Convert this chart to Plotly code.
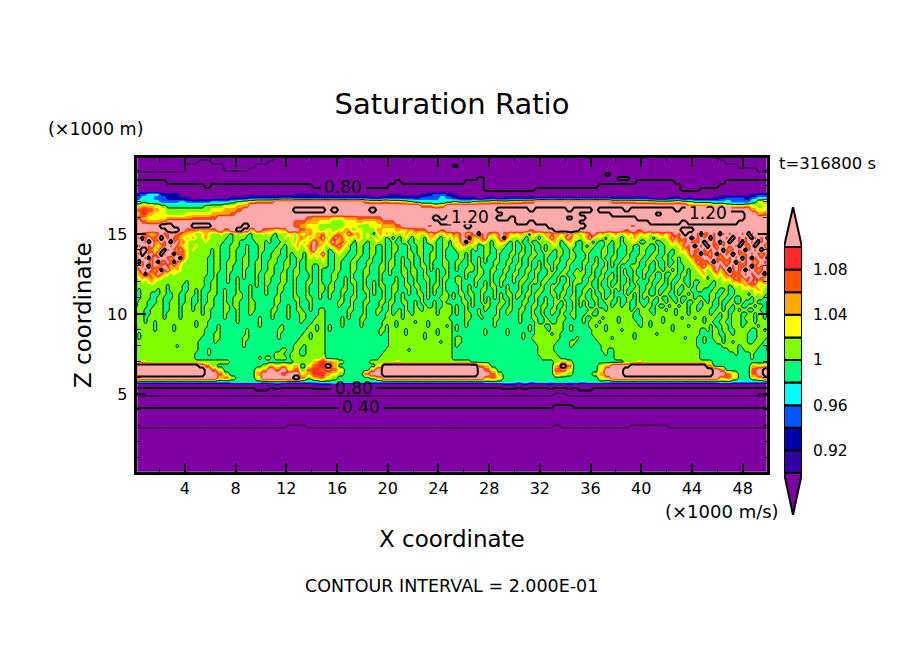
import plotly.graph_objects as go

# saturation ratio, one letter per grid cell, see sat_codes for what each letter stands for
sat_codes = {
    ".": 0.05, "a": 0.17, "b": 0.23, "c": 0.30, "d": 0.37, "e": 0.43, "f": 0.50, "g": 0.57, "h": 0.63,
    "i": 0.70, "j": 0.77, "k": 0.83, "l": 0.885, "m": 0.91, "n": 0.93, "o": 0.95, "p": 0.97, "G": 0.99,
    "L": 1.01, "Y": 1.03, "O": 1.05, "D": 1.07, "R": 1.09, "P": 1.14, "X": 1.30,
}
# 19.75 km down to 15.25 km, every 0.25 km, 100 columns
upper_rows = [
    "ffffffffff ffffffffff ffiiiiiiii iiiiiiiiii iiiiiiiiii iiiiiiiiii iiiiiiiiii iiiiiiiiii iiiiiiiiii iiffffffff",
    "ffffffffff iiffffffff fhiiiiiiii iiiiiiiiii iiiiiiiiii iiiiiiiiii iiiiiiiiii iiiiiiiiii iiiiiiiiii iiifffffff",
    "ffffffffii iiiifffffi iiiiiiiiii iiiiiiiiii iiiiiiiiii kiiiiiiiii iiiiiiiiii iiiiiiiiii iiiiiiiiii iiiiifffff",
    "ffffffffii iiiiggggii iiiiiiiiii iiiiiiiiii iiiiiiiiii iiiiiiiiii iiiiiiiiii iiiiiiiiii iiiiiiiiii iiiiiiiiff",
    "iiiiiiiiii iiiiiiiiii iiiiiiiiii iiiiiiiiii iiiiiiiiii iiiiiiiiii iiiiiiiiii iiiikiiiii iiiiiiiiii iiiiiiiiii",
    "jjjjjjjjjj jjjjjjjjjj jjjjjjjjjj jjjjjjjjjj jjjjjjjjjj jjjjkjjjjj jjjjjjjjjj jjjjjjkkjj jjjjjjjjjj jjjjjjjjjj",
    "kkkkkjjjjj jjjjjjjjjj jjjjjjjjjj jjjjjjjjjj jkjjjjjjjj jjkkkjjjjj jjjjjjjjjj jjjjjjjjjk kkkkkjjjjj jjjkkkkkkk",
    "kkkkkkkkkk kjkkkkkkkk kkkkkkkkjj jjjjjjjjjj kkkkkkkkkk kkkkkjjjjj jjjjjjjjjj jjjkkkkkkk kkkkkkjjjj jjkkkkkkkk",
    "kkkkkkkkkk kkkkkkkkkk kkkkkkkkkk kkkkkkkkkk kkkkkkkkkk kkkkkjjjjj jjjkkkkkkk kkkkkkkkkk kkkkkkjjjk kkkkkkkkkk",
    "noppnnnlll llllllllll lllllmmmml llllllllll mmlllmnoon mlllllllll llllllllll llllllllll llllllllll lllllllmnn",
    "oppoonnmml lllllmmmnn nnnoonnnnn nnnnnnnmmn nnnnnooopo nmmmlmmlmm mmmmmmmmmm mmmmmmmmmm mlllmmlmll lmnooonopp",
    "pGppooopoo oopppGLYOD DDPPPPPPPP PPPPPPDOOD OOYLGppppG LGGLYYOOYO ODDPPPPPPP PPPPPDDDDO OOYYYOYLGG GpppoooGYO",
    "YOOYLGGGGG GLLLYYOOPP PPPPPPPPPP PPPPPPPPPP PPPPPDDYOP PPPPPPPPPP PPPPPPPPPP PPPPPPPPPP PPPPPPPDDD DODYYYOYLY",
    "DRDOYLLLLL LLYYOODPPP PPPPPXXXXX PXPPPPPXPP PPPPPPPPPP PPPPPPPXXX XXPXXXXXPX XXPXXXXPXX XXXXXPXXXX XXPPPPPOYY",
    "OROYYLLLYY YYOOODPPPP PPPPPPPPPP PPPPPPPPPP PPPPPPPPPP PPPPPPPPXX XXXXXXXXXX PPPPPXXXXX XXPXXXXXXX XXXXXXPPOD",
    "DOYYYOOOOD DDDPPPPPPP PPPPPPPDOO OYYOODDDDP PPPPPPPXPX XPPPPPPXXP XXXXXXXXPX XPPPPPPPPX XXXXXXXXXX XXXXXXPPPP",
    "PDOODPPPPP PPPPPPPPPP PPPPPDDOOY YLLYYOYYOD DPPPPPPPXX PPPPPPPPPP XXPXXXXXXX PPPPPPPPPP PXXXXXPXXX XXXXXPPPPP",
    "PPPPXXPPPX XXPPPPPXPP PPPPPDOYYL LLLYYLLYYO ODPPPPRPPP PPXPPPPPPP PPPPPXXXXX XPPPPPPPRP PPPPPPPPPP PPPPPPPPPP",
    "PPPPPXXPDD OODPDPXPOP DOYOPPDOYL YLYOLYLLOY YOYODDPPRP PPPPPPPPPP PPRPPPXXXX PPPPPPPRPR PPPPPPXXPP PPPPPPPPPP",
]
# 15 km down to 7.25 km: the streaky layer at 200 columns, written in blocks of 20 columns from left to right
streak_blocks = [
    """DPDDOYODPDDPPDDOOYYL PDXDPDDPXPDPDDOYLYOY DPPDXPDOPDPXDPODYLLL XDPPDPOYODPDPDOYYLLO DPXXDOYOPXDPDOPDYLYL
    PDXPDPOPXDPPXDODYLLL DPPDXDPDPPDODPXDYLLL PXDPDOPXDOPDXDOYLLLL DPDPXDPODPDODOYLLLLL ODPDPDODXDPOYOYLLLLL
    YODXDODPDOYLYLLLLLLL LYOYODYOYLLLLLLLLLLL LLYLYOYLLLLLLLLLGLLL LLLLLLLLLLGLLLLGGLLL LGLLLLLGLLGLLLLGGLLG
    GGLLLGGGLLGGLLGGLLLG GGLLLGGLLGGGLLGGLLGG GLLLGGGLLGGLLLGGLLGG GLLLGGLLLGGLLLGLLLGL LLLGGLLLLGGLLLGLLLGL
    LLLGGLLLLGLLLLGLLLLL LLLGLLLLLGLLLLGLLLLL LLLGLLGLLLLLLLLLLLLG LLLLLLGLLLLLGLLLLLLG LLLLLLGLLLLLGLLLLLLL
    LGLLLLLLLLLLLLLLLLLL LGLLLLLLLLLLLLLLLLLL LLLLLLLLLLLLLLLLLLLL LLLLLLLLLLLLLGLLLLLL LLLLLLLLLLLLLLLLLLLL
    LLLLLLLLLLLLLLLLLLLG LLLLLLLLLLLLLLLLLLLG""",
    """LYOYLLLYLLGLLYLLGLLL LYOYLLLLLGGLLLLGGLLL LLYLLLLLGGGLLGGGGGLL LLLLLLLGGGLLLGGLGGGL LLLLGLLGGGLLGGGLGGGL
    LLLLGLLGGGLLGGGLGGGL LLLGGLLGGGLLGGLLGGGL LLLGGLLGGLLLGGLLGGLL LLLGGLLGGLLGGGLLGGLL LLLGGLLGGLLGGGLGGGLL
    LLLGGLGGGLGGGGLGGGLG LLGGGLGGGLGGLGLGGGLG LLGGLLGGGLGGLGGGGGLG LLGGLLGGGGGGLGGGLGLG LGGGLLGGLGGGLGGGLGGG
    LGGLLLGGLGGGLLGGLGGG LGGLLGGGLGGLLLGGLGGG LGGLLGGGLGGLLGGGLLGG LGLLLGGGLLGLLGGGLLGG LGLLGGGGLLGGLGGGLLGG
    LGLLGGGGLGGGLGGGLGGG LLLLGGGGLGGGLGGGGGGL LLLGGGGGGGGGLGGGGGGL LLLGGGLGGGGGGGGGGGGL LLGGGGLGGGGGGGGLGGGG
    LLGGGLLGGGGGGGGLGGGG LGGGGLLGGGGGGGLLGGGG GGGGGLGGGGGGGGLGGGGG GGGGGGGGGGGGGGLGGGGG GGGLGGGGGGGGGGGGGGGG
    GGGLGGGGGGGGGGGGGGGG GGGGGGGGGGGGGGGGGGGL""",
    """YLYLGYLLYYLOYYODYOOD LLLGGLLYLOLYDOYLYODP LGLGGGLLLYLOYLYOPDYO LGGGGLLGLLYOLYODPDOY LGGGLLGGLLLYLLYDPYLY
    GGGLLLGGLGLLLGLOYLOP GGGLLGGGLGGLLGLYLYLO GGLLLGGLLGGLGGLLLLLY GGLLGGGLLGGLGGLLGGLL GGLLGGGLGGLLGGLLGGLG
    GLLLGGLLGGLLGGGLGGLG GLLGGGLLGGLGGGGLGGLG GLLGGGLLGGLGGGLLGGLG GLGGGLLGGGLGGGLGGGLL GLGGGLLGGGLGGGLGGGLL
    GLGGGLGGGGLGGGLGGGLG GGGGLLGGGGLLGGLLGGLG GGGGLLGGGGGLGGGLGGGG GGGGLGGGLGGLGGGLGGGG GGGLLGGGLGGLLGGLGGLL
    GGGLGGGGLGGGLLGGGGLL GGGLGGGGLGGGLLGGGLLL GGGGGGGGGGGGLGGGLLLL GGGGGGLGGGGGGGGLLGLL GGGGGLLGGGGGGGLLLGLL
    GGGGGLGGGGGGGLLGLLLL GGGGGLGGGGGGLLLGLLLL GGGGGGGGGGGLLLLLLLLL GGGGGGGGGGLLLGLLLLLL GGGGGGLLGGLLGGLLLLLL
    GGGGLLLGGLLLGGLLLLLL GLLGLLLLGLLLLLLLLLLO""",
    """YLYODOYPDOOYLYLGYOYO LYDPODYLYLOYLYLYLYLG YOPYODOYLGYLLGLLYLLG LYODPOYLGGLLGGLLGGLG LGLYOYLLGGLLGGLLGGLG
    LGGLYLLGGGLLGGLLGGLG LGGLLLGGGLLGGGLGGGLG LGGLLGGGLLGGGLLGGGLG LGGLLGGGLLGGGLGGGLLG GGGLLGGGLLGGLLGGGLLG
    GGLLGGGGLGGGLLGGGLGG GGLLGGLGLGGGLGGGGLGG GGLGGGLGLLGGLGGLGLGG GLLGGGLGGLGGLGGLGLLG GLLGGLLGGLGGLLGLGGLG
    GLGGGLGGGLGGGLGLGGLG GLGGGLGGLLGGGLGGGGLG GGGGLLGGLGGGLLGGGLLG GGGGLGGGLGGGLGGGGLGG GGGGGGGLLGGGLGGGLLGG
    GGGGGGGLGGGGLGGGLGGL GGGGGLGLGGGLLGGGGGGL GGGGGLGGGGGLGGGGGGLL GLGGGLGGGGGLGGGGGGLG GLGGGGGGGGGGGGGGGLLG
    GGGGGGGGGGGGGGGGGLGG GGGGGGGGGGGGGGGGGGGG GGGGGGGGGGGGGGGGGGGG GGGGGGGGGGGGGGGGGGGG GGGGGGGGGGGGGGGGGGGL
    GGGGGGGGGGGGGGGGGGLL GGGGGGGGGGGGGGGGGLLL""",
    """YLYLYOYLOYLYOYDYLYOY LGLGLYLGLYLGYOYLGLYL GLGGLLGGLLLGLYLGGLLG GLLGGGLGGLLGGGLGGLLG GLLGGGLGGLLGGGLGGLGG
    GLGGGGLLGLLGGLLGGLGG GLGGLGLLGGLGGLLGGLGG LLGGLGGLGGLGGLGGGLLG LLGGLGGLGGLLGLGGGLLG LGGGLLGLLGGLGLGLGGLG
    LGGGLLGLLGGLGGGLGGLG GGLGGLGGLGGLLGGLGLLG GGLGGLGGLGGGLGGLGLGG GLLGGLLGLLGGLGLLGLGG GLLGGGLGGLGGLGLGGLGG
    GLGGLGLGGLLGLGLGGLLG GLGGLGGGGGLGLGGGLLLG LLGGLLGGLGLGGGLGGLGG LGGGGLGGLGGLGGLGGLLL LGGLGLGGLLGLLLLGLLLL
    LGLLGLLGLLLLLLLGLLLL LLLLGLLLLLLLLLLLLLLG LLGLLLLLGLLLGLLLLLLL LLGLLLLLLLLLGLLLLLGL LLLLLGLLLLLLLLLGLLLL
    LLLLLGLLLLLGLLLGLLLL LLLLLLLLLLLGLLLLLLLL LLLLLLLLLLLLLLLLGLLL LLLLLLLLLLLLLLLLLLLL LLLLLLGLLLLLLLLLLLLL
    LLLLLLLLLLLLLLLLLLLL LLLLLLLLLLLLLLLLLLLL""",
    """DODPOYDPXDPDOYDPODYO OYDPDXOYODPYLYOPXOYL YLOPXDOYLOYLGLYOYLGL LYLOYLYLGGLLGLYLLGGL GLYLLLGLGGLLGGLLGGGL
    GGLLGLGGGGLLGGLGGGLL GGLLGLGGLGLGGGLGGGLG GLLGGLGGLGLGGLLGGLLG GLGGGLLGLGGGGLGGGLGG GLGGLLLGLLGGLLGGLLGG
    GGGGLGGGLLGGLGGGLGGL GLLGLGGLLGGGLGGLLGGL GLLGGGGLGGLGLGGLGGGL GGLGGLGLGGLGLLGLGLGG GGLGGLGGGLLGGLGGGLGG
    LGLLGLLGGLGGGLGLGLLG LGGLGGLGGLGLGLGLGGLG GGGLLGLGGLGLGGGLLGLG GLGGLGLGGGLLGGLLGGLG GLGGLGGGLGLGGGLGGLLG
    GLGGLLGGLGGGGGLGGLGG GGGGLLGGGLGGGLLGGGGG GGGGLGGGGGGGGLGGGGGG GLGGLGGGGGGGGLGGGGGG GLGGGGGGGGLGGGGGGLGG
    GGGGGGGGGGLGGGGGGLGG GLLGGGGGGGGGGGGGGGGG GLLGGGGGGGGGGGGGGGGG GLGGGGGGGGGGGGGGGGGG GGGGGGGGGGGGGGGGGGGG
    GGGGGGGGGGGGGGGGGGGG GGGGGGGGGGGGGGGGGGGG""",
    """YOYLGOYLYOYDODYODPYL LYLGLYLGLYOPOYLOPDYO GLGGLGGLLLLYOLGLYOLG GGLGGLGGLGLLYLGGLYLG GGLGGLGGLGLLGLLGGLGG
    GLLGGLLGGLLGGLLGGLLG GLGGLLGGGLGGGLGGGLLG GLGGLGGLGLGGLLGGLLGG LLGGLGGLGLLGLGGGLGGG LGGLLGLLGGLGLGGLLGGL
    LGGLGGLGGGLLGGLLGGLL GGLLGGLGGLLGGLGGLGGL GLLGGLLGLLGGGLGGLGLL GLGGLGGGLGGLLGGLLGLG GLGGLGGLLGGLGGGLGGLG
    LLGLLGLLGGGLLGLLGGLG LGGLGGLGGLGGLGLGGLLG GGLLGGLGGLGGLLGLGGLG GGLGGLLGLLGGLGGLGGLG GLLGGLGGLGGLLGLLGGLG
    GLGGGLGGLGGLGGLGGLLG GLGGGLLGGLGGGLLLGGLG GLGGGGLGGLLGGLLGGGGG GGGGLGLLLGGLLLLGGLGG GGGGLGLLLLGLLLLGGLGG
    GGLGGGLLLLLGLLGGGGGG GGLGGLLLLLLLLLGGGGGL GGGGGGLLLLLLLGGGGLLG GGGGGGGLLLLLGGGGGLGG GGGGGGGLLLLLGGGGGGGG
    GGGGGGGLLLLLLGGGGGGG GGGGGGGGLLLLLLGGGGGG""",
    """LYODPDYOYLYOYLYOYDOY LYOPYLYLGYLYLGLYLOYL GLYLGLGGLLGLLGLLYYLG GLGLLGGGLGGLLGGLLGGL GLLLGGGLLGGLGGGLLGGL
    GGLGGGGLLGGLGGGLGGGL GGLGGLGLGGLLGGLLGGLL GLLGGLGGLGLGGLLGGGLG GLGGLLGGLGLGLGGGLLLG GLGGLGGLLGGGLGLGGLGG
    LLGGLGGLGGLGLGLGGLGG LGGLLGLLGLLGLGGLGLLG LGGLGGLGGLGGLGGLGLGG GGLLGGLGGLGLLGLLGGLG GLLGLGLLGGLGLGLGGLLG
    GLGGLGGLGGLGGGLGLGLG LLGGLLGLGLLGLGGLLGLG LGLGGLGGLLGGLGGLGGLG LGLGGLGGGLGLLGLLGGLL GGGLLGLLGLLLLLLLGLGL
    GGLLGGLLLLLLLLLLLGGL GLGGLLLGLLLLGLLLLGGG GLGLLLGLLLLLGLLLLLGG GGGLLGLLGLLLLLLLLLLG GGGGLLLLGLLLLGLLLLLL
    GGGGLLLLLLLLLLLLLGLL GGGGGLLLLLGLLLLLLGLL GGGGGGLLLLLLLLLLLLLL GGGGGGGLLLLLLLLLLLLL GGGGGGGLLGGLLLLLLLLL
    GGGGGGGGLGGLLLLLLLLL GGGGGGGGGGGLLLLLLLLL""",
    """OYLOYODYODPDPXPDPDXD LYLGLYLYOPODPDPXPDPD GLLLGGLLYOYDODPDODPX LLGGLGGLLYLYOPDPXPDP LGGGLGGLLGLLOYDPDOPD
    LGGLLGGLGGLYLYOPDPXD GGLLGGLLGLLGLLYODODP GLLGLGGLGGLGLLLYOPDO GLGGLGGLGLLGGLLLYODP LLGGLLGLLGLGGLGLLYOY
    LGGLGGLGGLLGLLGLLLYO LGLLGGLGLLGGLGGLLLLY GGLGGLLGLGGLLGGLGGLL GLLGLLGGLGLLGLGLGLLL GLGGLGGLLGLGGLLGGLLG
    LLGGLGLLGGLGLLGLGGGG LGLLGLGGLGGLGGLLGLLG GGLGGLLGLLGLGLGGLLGL GLLGLGGLGLLGLLGLLGGL LLGGLLLGLLGLLLGLLGLL
    LLLGLLLLLLGLLLGLLLLL LLLLLLGLLLLLGLLLGLLG LLGLLLGLLLLLLLLLLLLG LLGLLLLLLGLLLLGLLLLL LLLLLLLLLGLLLLLLLLGG
    LLLLGLLLLLLLLLLLLLGG LLLLLLLLLLLLLGLLLGGL LLLLLLLLLLLLLLLLLGGL LLLLLLLLLLLLLLLLLGGG LLLLLLLLLLLLLLLLLLGG
    LLLLLLLLLLLLLLLLLLGG LLLLLLLLLLLLLLLLLLGG""",
    """DPDPXDPDPRPDPXDPDPDP PXDPDPDPXPDPDPXDPDPX DPDPXDPXDPDXDPDPXDPD XPDOPDPDPDXPDOPXDPDO PDPDPXDODPDPXDPDPXPD
    DOPXDPDPXPDODPDPDODP PDPDODPDPDPXDPXDPDPX DPXDPDODPXDPDPDODPDO YODPDPDPDPDODPXDPDPD LYDPYDPXDPDPXDPDODPO
    LLYOYODPDODPDPDPDPXD GLLYLYOYDPDOPDPOPDOY LLGLLYLYOYDOYPDPYODY LGGLLLLGLYLYOYDOYLYL GGLLGGLGGLLYLYLYOYLL
    GLLGGLLGGLLLLGLYLYLG GLLGLLGGLGGLLLGLLLGG GLGGLGGLLGGLGGGLGGGL LLGGLGLLGLLGGLLGLLGL LGGLLGLGGLGLLGGLLGGL
    LGLLGLLGLLLGGLLGLLGL LLLGGLLGLLLGLLLGLLGL LLGGLLGGLLLGGLLGLLLL LGLGGLLGLLLGLLLLGLLL LGLLGLLGGLLLLLGGLLGL
    GGLLGGLLGLLLLGGGLLLL GGLLLGLLLLLLLGGGLLLG GGGLLGLLGLLLLGGLLLGG GGGGGLLLLLGLLLLLLGGL GGGGGGGLLLGGLLLLGGGL
    GGGGGGGGGLGGGGLGGGGG GGGGGGGGGGGGGGLGGGGG""",
]
# 7 km down to 0 km, every 0.25 km, 100 columns
lower_rows = [
    "LYLLLLLLLL LLLLLGGGGG GGGGGLLLOR DOLGGGGLLL LYLLLLLLLL LLLGGGGGGG GGGGGGLOLG GGGGGGGLLY LLLLLLLLLL LGGGGGGGGG",
    "XXXXXXXXXX PDLGGGGGGG LOYOYOGYDR XOGGGGGGYX XXXXXXXXXX XXXXDOGGGG GGGGGGOXDG GGGYOPPPXX XXXXXXXXXX DGGGGGGOYO",
    "XXXXXXXXXX XPDYGGGGGY OPDPYDLDRD RDYGGGGOPX XXXXXXXXXX XXXXPDYGGG GGGGGGDRYG GGGYPPPXXX XXXXXXXXXX XPDGGGGDPX",
    "XXXXXXXXXX XPPDLGGGGO PPPDPPYORR OYLGGGDPPX XXXXXXXXXX XXXXPPDLGG GGGGGGOYLG GGLOPPPXXX XXXXXXXXXX XPPDYGGDPX",
    "PPPPPPPPPP PPPODLGGGY PPPPPXDLOD YLGGGGGLOP PPPPPPPPPP PPPPPODYGG GGGGGGGGGG GGGYOPPPPP PPPPPPPPPP PPODYGGYOP",
    "pppppppppp pppppGGGGG pGGGpppppG GGGGGGGppp pppppppppp pppppGGGGG pGpGGpGGpG pGGGpppppp pppppppppp ppGGpppppp",
    "kkkkkkkkkk kkkkkkkkkk kklkkkkkll lmlkkkkkkk kkkkkkkkkk kkkkkkkkll klkkklkklk kkkkkkkkkk kkkkkkkkkk kkkkkkkkkk",
    "jjjjjjjjjj jjjjjjjjjk kjjjjjjjjj jjjjjjjjjj jjjjjjjjjj jjjjjjjjjj jjjjjjjjjj kkjjjjjjjj jjjjjjjjjj jjjjjjjjjj",
    "hhhhhhhhhh hhhhhhhhhh hhhhhhhhhh hhhhhhhhhh hhhhhhhhhh hhhhhhhhhh hhhhhhgghh hhhhhhhhhh hhhhhhhhhh hhhhhhhhhh",
    "gggggggggg gggggggggg gggggggggg gggggggggg gggggggggg gggggggggg gggggggggg gggggggggg gggggggggg gggggggggg",
    "ffffffffff ffffffffff ffffffffff ffffffffff ffffffffff ffffffffff ffffffffff ffffffffff ffffffffff ffffffffff",
    "eeeeeeeeee eeeeeeeeee eeeeeeeeee eeeeeeeeee eeeeeeeeee eeeeeeeeee eeeeeeddde eeeeeeeeee eeeeeeeeee eeeeeeeeee",
    "dddddddddd dddddddddd dddddddddd dddddddddd dddddddddd dddddddddd dddddddddd dddddddddd dddddddddd dddddddddd",
    "cccccccccc cccccccccc cccccccccc cccccccccc cccccccccc cccccccccc cccccccccc cccccccccc cccccccccc cccccccccc",
    "cccccccccc cccccccccc cccccccccc cccccccccc cccccccccc cccccccccc cccccccccc cccccccccc cccccccccc cccccccccc",
    "cccccccccc cccccccccc cccccccccc cccccccccc cccccccccc cccccccccc cccccccccc cccccccccc cccccccccc cccccccccc",
    "bbbbbbbbbb bbbbbbbbbb bbbbaaabbb bbbbbbbbbb bbbbbbbbbb bbbbbbbbbb bbbbbbabbb bbbbbbbbaa aaaabbbbbb bbbbbbbbbb",
    "aaaaaaaaaa aaaaaaaaaa aaaaaaaaaa aaaaaaaaaa aaaaaaaaaa aaaaaaaaaa aaaaaaaaaa aaaaaaaaaa aaaaaaaaaa aaaaaaaaaa",
    ".", ".", ".", ".", ".", ".", ".", ".", ".", ".", ".",
]
n_cols = 200
x_left, x_right = 0.14, 50.0
z_step = 0.25

# colour bar: fill levels and their colours, the two end colours are the arrows
fill_levels = [0.90, 0.92, 0.94, 0.96, 0.98, 1.00, 1.02, 1.04, 1.06, 1.08, 1.10]
fill_colors = ["#3300a6", "#0000aa", "#0055ff", "#00ffff", "#00ff80", "#80ff00", "#ffff00", "#ffaa00", "#ff5500", "#ff2a2a"]
under_color = "#7f00a2"
over_color = "#ffaaaa"

x_ticks = [4, 8, 12, 16, 20, 24, 28, 32, 36, 40, 44, 48]
z_ticks = [5, 10, 15]
bar_ticks = [0.92, 0.96, 1.00, 1.04, 1.08]
bar_tick_text = ["0.92", "0.96", "1", "1.04", "1.08"]

# the page body has an 8px margin, so everything is placed 8px up and left of the picture position
W, H = 896, 646
PAGE_MARGIN = 8
font = "DejaVu Sans"


def px(x):
    return (x - PAGE_MARGIN) / W


def py(y):
    return 1 - (y - PAGE_MARGIN) / H


def coarse_row(row):
    row = row.replace(" ", "")
    row = row.ljust(n_cols // 2, row[-1])[: n_cols // 2]
    return [sat_codes[c] for c in row for _ in range(2)]


def streak_rows():
    blocks = [b.split() for b in streak_blocks]
    return [[sat_codes[c] for c in "".join(parts)] for parts in zip(*blocks)]


top_down = [coarse_row(r) for r in upper_rows] + streak_rows() + [coarse_row(r) for r in lower_rows]
z_grid = top_down[::-1]
z_km = [i * z_step for i in range(len(z_grid))]
x_km = [x_left + (x_right - x_left) * i / (n_cols - 1) for i in range(n_cols)]
print(len(z_grid), "rows", {len(r) for r in z_grid})

# discrete colour scale, one flat band per level
all_colors = [under_color] + fill_colors + [over_color]
scale = []
for i, c in enumerate(all_colors):
    scale.append([i / len(all_colors), c])
    scale.append([(i + 1) / len(all_colors), c])

fig = go.Figure()
fig.add_trace(go.Contour(
    x=x_km, y=z_km, z=z_grid,
    autocontour=False,
    contours=dict(start=0.90, end=1.10, size=0.02, coloring="fill", showlines=False),
    colorscale=scale, zmin=0.88, zmax=1.12, showscale=False,
    line=dict(width=0, smoothing=0), hoverinfo="skip",
))
# 0.2 interval lines, every other one heavier
fig.add_trace(go.Contour(
    x=x_km, y=z_km, z=z_grid,
    autocontour=False,
    contours=dict(start=0.2, end=1.0, size=0.4, coloring="none"),
    line=dict(color="black", width=1, smoothing=0), showscale=False, hoverinfo="skip",
))
fig.add_trace(go.Contour(
    x=x_km, y=z_km, z=z_grid,
    autocontour=False,
    contours=dict(start=0.4, end=1.2, size=0.4, coloring="none"),
    line=dict(color="black", width=2, smoothing=0), showscale=False, hoverinfo="skip",
))

# colour bar drawn on its own little axes
for lo, hi, c in zip(fill_levels[:-1], fill_levels[1:], fill_colors):
    fig.add_trace(go.Scatter(
        x=[0, 1, 1, 0, 0], y=[lo, lo, hi, hi, lo], xaxis="x2", yaxis="y2", mode="lines",
        fill="toself", fillcolor=c, line=dict(color="black", width=2), hoverinfo="skip",
    ))
arrow_len = 0.0354
for base, tip, c in [(fill_levels[-1], fill_levels[-1] + arrow_len, over_color),
                     (fill_levels[0], fill_levels[0] - arrow_len - 0.0018, under_color)]:
    fig.add_trace(go.Scatter(
        x=[0, 0.5, 1, 0], y=[base, tip, base, base], xaxis="x2", yaxis="y2", mode="lines",
        fill="toself", fillcolor=c, line=dict(color="black", width=2), hoverinfo="skip",
    ))

tick_font = dict(family=font, size=16, color="black")
fig.update_layout(
    width=W, height=H, margin=dict(l=0, r=0, t=0, b=0), showlegend=False,
    paper_bgcolor="white", plot_bgcolor="white",
    title=dict(text="Saturation Ratio", x=px(452), y=py(104), xanchor="center", yanchor="middle",
               font=dict(family=font, size=29, color="black")),
    xaxis=dict(
        domain=[px(137.3), px(766.7)], range=[0.24, 49.9], tickvals=x_ticks, ticks="inside", ticklen=9, tickwidth=2,
        minor=dict(dtick=2, tick0=0, ticks="inside", ticklen=4, tickwidth=1), showline=True, linewidth=2.5,
        linecolor="black", mirror="ticks", showgrid=False, zeroline=False, tickfont=tick_font, tickcolor="black",
    ),
    yaxis=dict(
        domain=[py(471.7), py(158)], range=[0.14, z_km[-1]], tickvals=z_ticks, ticks="inside", ticklen=9, tickwidth=2,
        minor=dict(dtick=1, tick0=0, ticks="inside", ticklen=4, tickwidth=1), showline=True, linewidth=2.5,
        linecolor="black", mirror="ticks", showgrid=False, zeroline=False, tickfont=tick_font, tickcolor="black",
        ticklabelstandoff=4,
    ),
    xaxis2=dict(domain=[px(784), px(802)], range=[0, 1], anchor="y2", visible=False),
    yaxis2=dict(
        domain=[py(515), py(207)], range=[0.8628, 1.1354], anchor="x2", side="right", tickvals=bar_ticks,
        ticktext=bar_tick_text, ticks="outside", ticklen=7, tickcolor="rgba(0,0,0,0)", showline=False,
        showgrid=False, zeroline=False, tickfont=dict(family=font, size=15.5, color="black"),
    ),
)

# axis words and the run info, placed by pixel
notes = [
    ("X coordinate", 452, 539, 23, 0),
    ("Z coordinate", 83, 315, 23, -90),
    ("(\u00d71000 m)", 95, 129, 17.5, 0),
    ("(\u00d71000 m/s)", 722, 511, 18, 0),
    ("t=316800 s", 827, 163, 16.5, 0),
    ("CONTOUR INTERVAL = 2.000E-01", 451, 586, 17.5, 0),
]
for text, x, y, size, angle in notes:
    fig.add_annotation(text=text, x=px(x), y=py(y), xref="paper", yref="paper", showarrow=False, textangle=angle,
                       xanchor="center", yanchor="middle", font=dict(family=font, size=size, color="black"))

# labels sitting on the contour lines, each with a gap cut in the line behind it
line_labels = [
    ("0.80", 16.5, 17.95, 0.35, under_color),
    ("1.20", 26.5, 16.05, 0.45, over_color),
    ("1.20", 45.3, 16.3, 0.45, over_color),
    ("0.80", 17.3, 5.4, 0.2, under_color),
    ("0.40", 17.9, 4.2, 0.3, under_color),
]
for text, x, z, half_h, bg in line_labels:
    fig.add_shape(type="rect", x0=x - 1.8, x1=x + 1.8, y0=z - half_h, y1=z + half_h, fillcolor=bg, line_width=0)
    fig.add_annotation(text=text, x=x, y=z, showarrow=False, font=dict(family=font, size=17, color="black"))

fig.write_html("out.html")
